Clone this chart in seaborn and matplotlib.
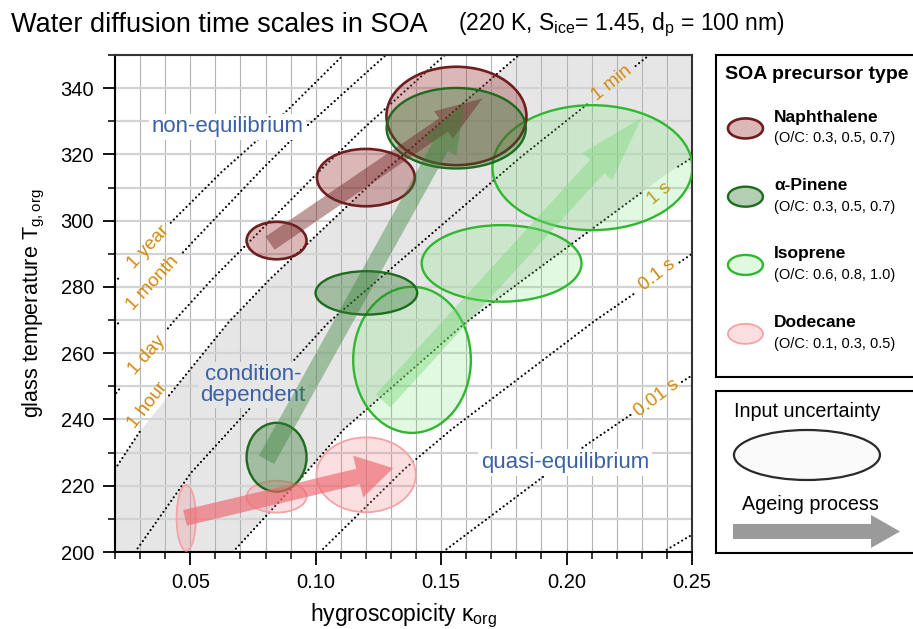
"""
Water diffusion time scales in SOA: glass temperature vs hygroscopicity with
time-scale isolines, precursor uncertainty ellipses and ageing arrows.
"""

import numpy as np
import pandas as pd
import matplotlib
matplotlib.use("Agg")
import matplotlib.pyplot as plt
from matplotlib.patches import Ellipse, FancyArrow
from matplotlib.ticker import MultipleLocator
import seaborn as sns

# ---- time-scale isolines, (kappa, Tg) points ----
TAU_NAMES = ["1 year", "1 month", "1 day", "1 hour", "1 min", "1 s", "0.1 s", "0.01 s", "0.001 s"]
KAPPA_1YEAR = [0.020, 0.043, 0.0622, 0.0756, 0.111]
TG_1YEAR = [281.5, 300.0, 314.5, 323.5, 350.0]
KAPPA_1MONTH = [0.020, 0.049, 0.077, 0.0895, 0.128]
TG_1MONTH = [268.0, 292.0, 314.3, 323.8, 350.0]
KAPPA_1DAY = [0.0205, 0.0429, 0.0584, 0.1006, 0.1183, 0.1515]
TG_1DAY = [248.0, 269.2, 282.1, 314.3, 327.3, 350.0]
KAPPA_1HOUR = [0.020, 0.0303, 0.0651, 0.0814, 0.1264, 0.181]
TG_1HOUR = [225.0, 236.8, 269.2, 282.1, 314.3, 350.0]
KAPPA_1MIN = [0.028, 0.0503, 0.105, 0.1819, 0.233]
TG_1MIN = [200.0, 223.9, 269.2, 319.3, 350.0]
KAPPA_1S = [0.067, 0.0961, 0.1109, 0.1597, 0.1826, 0.2403, 0.250]
TG_1S = [200.0, 223.9, 236.8, 269.2, 282.1, 314.3, 319.0]
KAPPA_01S = [0.1017, 0.1353, 0.1538, 0.2107, 0.2299, 0.250]
TG_01S = [200.0, 225.0, 236.8, 269.5, 279.5, 290.0]
KAPPA_001S = [0.1507, 0.1906, 0.2078, 0.2265, 0.250]
TG_001S = [200.0, 222.7, 232.3, 241.9, 253.3]
KAPPA_0001S = [0.2384, 0.250]
TG_0001S = [200.0, 205.2]

TAU_KAPPA = [KAPPA_1YEAR, KAPPA_1MONTH, KAPPA_1DAY, KAPPA_1HOUR, KAPPA_1MIN,
             KAPPA_1S, KAPPA_01S, KAPPA_001S, KAPPA_0001S]
TAU_TG = [TG_1YEAR, TG_1MONTH, TG_1DAY, TG_1HOUR, TG_1MIN,
          TG_1S, TG_01S, TG_001S, TG_0001S]

# label placement along each isoline (kappa, Tg, rotation) and the gap it cuts
TAU_LABEL_POS = [(0.0334, 292.0, 47), (0.0349, 281.2, 47), (0.0326, 259.4, 48),
                 (0.0329, 244.4, 52), (0.2182, 341.4, 39), (0.2371, 308.3, 40),
                 (0.2361, 283.6, 38), (0.2358, 246.6, 37), None]
TAU_GAPS = [(0.022, 0.042), (0.022, 0.047), (0.022, 0.041), (0.0305, 0.041),
            (0.209, 0.227), (0.231, 0.244), (0.227, 0.245), (0.226, 0.246), None]

# ---- precursor ellipses (centre and full width/height), three O/C values each ----
SPECIES = ["Naphthalene", "α-Pinene", "Isoprene", "Dodecane"]
OC_TEXT = ["(O/C: 0.3, 0.5, 0.7)", "(O/C: 0.3, 0.5, 0.7)",
           "(O/C: 0.6, 0.8, 1.0)", "(O/C: 0.1, 0.3, 0.5)"]
NAPH_KAPPA = [0.0844, 0.1200, 0.1561]
NAPH_TG = [294.0, 313.0, 331.6]
NAPH_DK = [0.0239, 0.0390, 0.0558]
NAPH_DT = [11.3, 17.3, 29.7]
PIN_KAPPA = [0.0844, 0.1202, 0.1560]
PIN_TG = [228.6, 278.2, 327.9]
PIN_DK = [0.0239, 0.0405, 0.0555]
PIN_DT = [20.8, 13.1, 24.3]
ISO_KAPPA = [0.1384, 0.1741, 0.2103]
ISO_TG = [258.0, 287.1, 316.0]
ISO_DK = [0.0469, 0.0637, 0.0797]
ISO_DT = [44.1, 23.1, 37.7]
DOD_KAPPA = [0.0484, 0.0844, 0.1201]
DOD_TG = [210.3, 216.7, 223.3]
DOD_DK = [0.0077, 0.0239, 0.0396]
DOD_DT = [19.8, 9.6, 22.6]

# ageing arrows: (tail, tip)
NAPH_ARROW = [(0.0818, 293.2), (0.1665, 336.9)]
PIN_ARROW = [(0.0804, 227.8), (0.1594, 335.5)]
ISO_ARROW = [(0.1268, 245.6), (0.2298, 330.9)]
DOD_ARROW = [(0.0479, 210.3), (0.1309, 225.3)]

REGION_TEXT = ["non-equilibrium", "condition-\ndependent", "quasi-equilibrium"]
REGION_POS = [(0.0648, 328.3), (0.075, 250.4), (0.1993, 227.0)]

XTICKS = [0.05, 0.10, 0.15, 0.20, 0.25]
XTICK_LABELS = ["0.05", "0.10", "0.15", "0.20", "0.25"]
YTICKS = [200, 220, 240, 260, 280, 300, 320, 340]

STYLE = {
    "Naphthalene": dict(fc=(0.60, 0.20, 0.20, 0.35), ec="#6e1e1e", lw=1.9,
                        arrow=(0.45, 0.15, 0.15, 0.45), aw=(11.5, 24, 34)),
    "α-Pinene": dict(fc=(0.15, 0.45, 0.15, 0.35), ec="#1e6b1e", lw=1.7,
                     arrow=(0.20, 0.50, 0.20, 0.40), aw=(12.5, 26, 36)),
    "Isoprene": dict(fc=(0.45, 0.90, 0.45, 0.22), ec="#2fb82f", lw=1.7,
                     arrow=(0.45, 0.85, 0.45, 0.40), aw=(14.0, 29, 47)),
    "Dodecane": dict(fc=(0.95, 0.50, 0.52, 0.25), ec="#f4a3a5", lw=1.3,
                     arrow=(0.93, 0.40, 0.43, 0.65), aw=(11.5, 31, 26)),
}
ORANGE = "#d18a10"
BLUE = "#3a60a5"
BAND = "#e6e6e6"


def setup_style():
    sns.set_theme(style="white", rc={
        "text.color": "black",
        "axes.labelcolor": "black",
        "xtick.color": "black",
        "ytick.color": "black",
    })
    plt.rcParams["font.family"] = ["Liberation Sans", "DejaVu Sans"]
    plt.rcParams["mathtext.default"] = "regular"


def isoline_frame() -> pd.DataFrame:
    rows = []
    for name, k, t, gap in zip(TAU_NAMES, TAU_KAPPA, TAU_TG, TAU_GAPS):
        kk = np.linspace(k[0], k[-1], 300)
        tt = np.interp(kk, k, t)
        if gap is None:
            seg = np.zeros(kk.size, dtype=int)
        else:
            seg = np.where(kk < gap[0], 0, np.where(kk > gap[1], 1, -1))
        for a, b, s in zip(kk, tt, seg):
            if s >= 0:
                rows.append((a, b, f"{name}-{s}"))
    return pd.DataFrame(rows, columns=["kappa", "tg", "unit"])


def main():
    setup_style()
    fig = plt.figure(figsize=(9.13, 6.29), dpi=100)
    W, H = 913, 629
    ax = fig.add_axes([115 / W, 1 - 552 / H, 577 / W, 497 / H])

    ax.set_xlim(0.02, 0.25)
    ax.set_ylim(200, 350)

    # condition-dependent band between the 1 hour and 1 s isolines
    kk = np.linspace(0.02, 0.25, 600)
    lower = np.interp(kk, KAPPA_1S, TG_1S, left=150)
    upper = np.interp(kk, KAPPA_1HOUR, TG_1HOUR, right=400)
    ax.fill_between(kk, lower, upper, color=BAND, lw=0, zorder=0.2)

    # grid
    ax.set_axisbelow(True)
    ax.xaxis.set_minor_locator(MultipleLocator(0.01))
    ax.yaxis.set_minor_locator(MultipleLocator(10))
    ax.xaxis.grid(True, which="both", color="#b3b3b3", lw=0.8)
    ax.yaxis.grid(True, which="both", color="#d3d3d3", lw=1.6)

    # isolines
    lines = isoline_frame()
    sns.lineplot(data=lines, x="kappa", y="tg", units="unit", estimator=None,
                 sort=False, color="black", lw=1.6, linestyle=(0, (0.01, 2.0)),
                 dash_capstyle="round", legend=False, ax=ax, zorder=1)
    for name, pos in zip(TAU_NAMES, TAU_LABEL_POS):
        if pos is None:
            continue
        ax.text(pos[0], pos[1], name, rotation=pos[2], rotation_mode="anchor",
                ha="center", va="center", color=ORANGE, fontsize=13.5, zorder=1.5)

    # region labels
    for txt, pos, bg in zip(REGION_TEXT, REGION_POS, ["white", BAND, "white"]):
        ax.text(pos[0], pos[1], txt, ha="center", va="center", color=BLUE,
                fontsize=16, linespacing=0.95, multialignment="center", zorder=2,
                bbox=dict(boxstyle="square,pad=0.12", fc=bg, ec="none"))

    # uncertainty ellipses
    groups = [
        ("Isoprene", ISO_KAPPA, ISO_TG, ISO_DK, ISO_DT),
        ("Dodecane", DOD_KAPPA, DOD_TG, DOD_DK, DOD_DT),
        ("Naphthalene", NAPH_KAPPA, NAPH_TG, NAPH_DK, NAPH_DT),
        ("α-Pinene", PIN_KAPPA, PIN_TG, PIN_DK, PIN_DT),
    ]
    for name, ks, ts, dks, dts in groups:
        st = STYLE[name]
        for k, t, dk, dt in zip(ks, ts, dks, dts):
            ax.add_patch(Ellipse((k, t), dk, dt, fc=st["fc"], ec=st["ec"],
                                 lw=st["lw"], zorder=3))

    # ageing arrows
    arrows = [("Naphthalene", NAPH_ARROW), ("α-Pinene", PIN_ARROW),
              ("Isoprene", ISO_ARROW), ("Dodecane", DOD_ARROW)]
    for name, (tail, tip) in arrows:
        st = STYLE[name]
        tw, hw, hl = st["aw"]
        ax.annotate(
            "", xy=tip, xytext=tail, zorder=4,
            arrowprops=dict(
                arrowstyle=f"simple,tail_width={tw / 10},head_width={hw / 10},head_length={hl / 10}",
                mutation_scale=10, fc=st["arrow"], ec="none", shrinkA=0, shrinkB=0,
            ),
        )

    # axes cosmetics
    ax.set_xticks(XTICKS, labels=XTICK_LABELS)
    ax.set_yticks(YTICKS)
    ax.tick_params(axis="both", which="major", direction="out", length=9, width=1.3,
                   color="black", labelsize=14.5, bottom=True, left=True, pad=6)
    ax.tick_params(axis="both", which="minor", direction="out", length=5, width=1.1,
                   color="black", bottom=True, left=True)
    for side in ["left", "bottom"]:
        ax.spines[side].set_color("black")
        ax.spines[side].set_linewidth(1.5)
    for side in ["top", "right"]:
        ax.spines[side].set_color("#333333")
        ax.spines[side].set_linewidth(1.5)
    ax.set_xlabel("hygroscopicity κ$_{org}$", fontsize=16.5, labelpad=7)
    ax.set_ylabel("glass temperature T$_{g,org}$", fontsize=15.5, labelpad=10)

    fig.text(11 / W, 1 - 25 / H, "Water diffusion time scales in SOA", fontsize=19.5,
             va="center", ha="left")
    fig.text(458 / W, 1 - 25 / H, "(220 K, S$_{ice}$= 1.45, d$_{p}$ = 100 nm)",
             fontsize=16.5, va="center", ha="left")

    # legend box 1: precursor types
    lg = fig.add_axes([716 / W, 1 - 377 / H, 215 / W, 322 / H])
    lg.set_xlim(0, 1)
    lg.set_ylim(0, 1)
    lg.set_xticks([])
    lg.set_yticks([])
    for sp in lg.spines.values():
        sp.set_color("black")
        sp.set_linewidth(1.5)
    lg.text(0.04, 0.938, "SOA precursor type", fontsize=14, fontweight="bold",
            ha="left", va="center")
    icon_y = [0.772, 0.560, 0.348, 0.134]
    for name, oc, y in zip(SPECIES, OC_TEXT, icon_y):
        st = STYLE[name]
        lg.add_patch(Ellipse((0.137, y), 35 / 215, 20 / 322, fc=st["fc"], ec=st["ec"],
                             lw=st["lw"]))
        lg.text(0.27, y + 0.034, name, fontsize=12.5, fontweight="bold",
                ha="left", va="center")
        lg.text(0.27, y - 0.031, oc, fontsize=10.5, ha="left", va="center")

    # legend box 2: symbols
    lg2 = fig.add_axes([716 / W, 1 - 553 / H, 215 / W, 162 / H])
    lg2.set_xlim(0, 1)
    lg2.set_ylim(0, 1)
    lg2.set_xticks([])
    lg2.set_yticks([])
    for sp in lg2.spines.values():
        sp.set_color("black")
        sp.set_linewidth(1.5)
    lg2.text(0.084, 0.872, "Input uncertainty", fontsize=14.2, ha="left", va="center")
    lg2.add_patch(Ellipse((0.423, 0.605), 146 / 215, 50 / 162, fc="#fafafa",
                          ec="#2a2a2a", lw=1.6))
    lg2.text(0.121, 0.302, "Ageing process", fontsize=14.2, ha="left", va="center")
    lg2.add_patch(FancyArrow(0.079, 0.133, 0.777, 0, width=15 / 162,
                             head_width=33 / 162, head_length=29 / 215,
                             length_includes_head=True, fc="#9a9a9a", ec="none"))

    fig.savefig("out.png", dpi=100, facecolor="white")
    plt.close(fig)


if __name__ == "__main__":
    main()
